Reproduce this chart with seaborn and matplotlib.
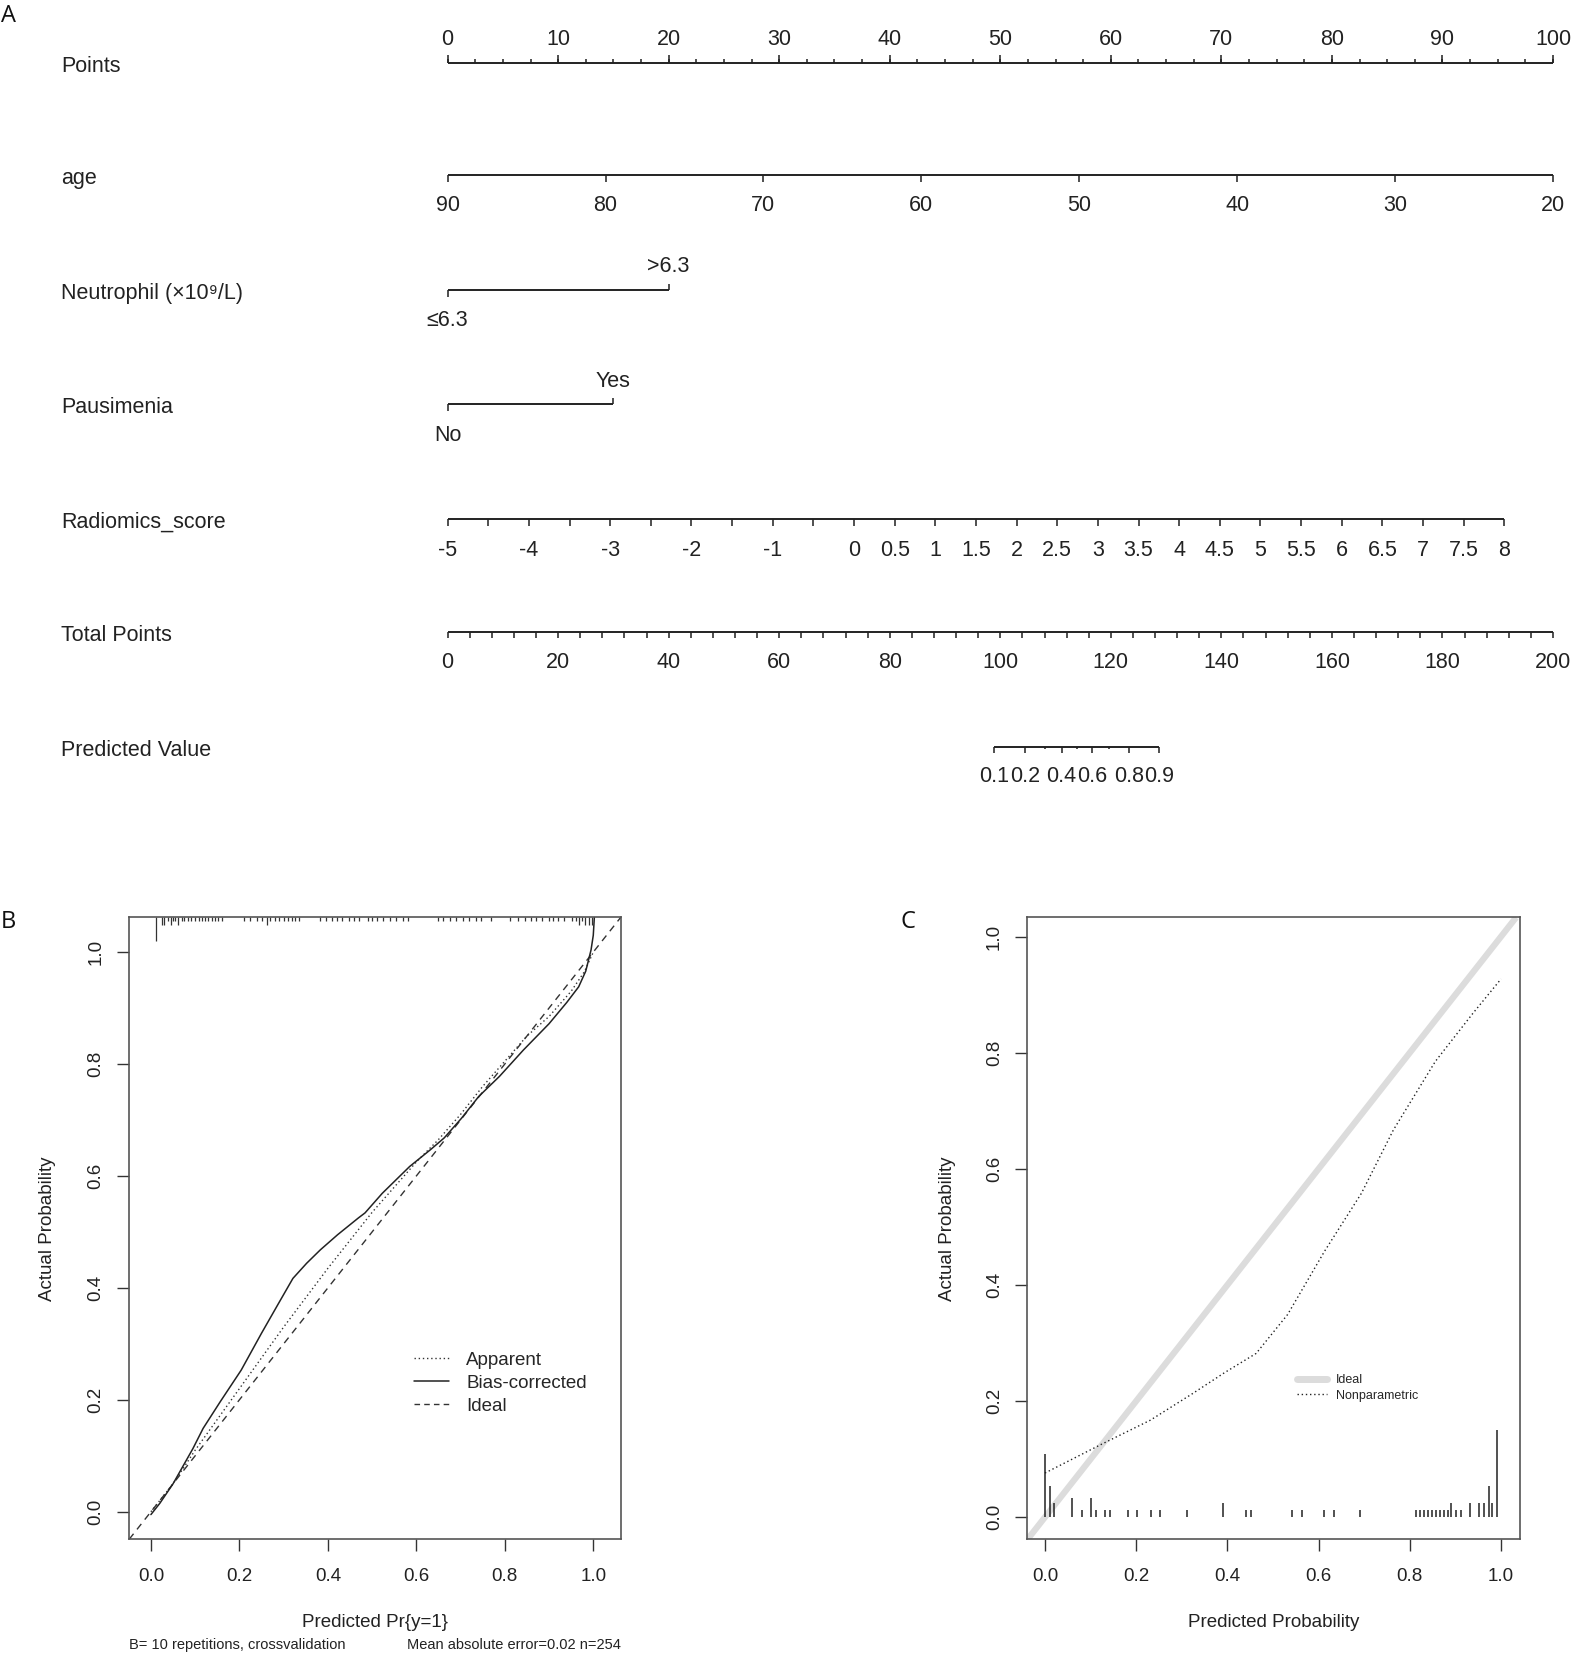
import numpy as np
import pandas as pd
import matplotlib
matplotlib.use("Agg")
import matplotlib.pyplot as plt
import seaborn as sns
from matplotlib.transforms import blended_transform_factory
from matplotlib.lines import Line2D

# ---------------- data ----------------
# Nomogram (panel A)
points_major = np.arange(0, 101, 10)
points_minor = np.arange(0, 100.01, 2.5)
age_ticks = [90, 80, 70, 60, 50, 40, 30, 20]
age_at_0pts, age_at_100pts = 90, 20
neut_labels = ["\u22646.3", ">6.3"]
neut_points = [0, 20]
paus_labels = ["No", "Yes"]
paus_points = [0, 15]
rad_ticks = np.arange(-5, 8.01, 0.5)
rad_labels = [-5, -4, -3, -2, -1, 0, 0.5, 1, 1.5, 2, 2.5, 3, 3.5, 4, 4.5, 5,
              5.5, 6, 6.5, 7, 7.5, 8]
rad_min, rad_max, rad_points_at_max = -5, 8, 95.6
total_major = np.arange(0, 201, 20)
total_minor = np.arange(0, 200.01, 4)
pred_major = [0.1, 0.2, 0.4, 0.6, 0.8, 0.9]
pred_minor = [0.3, 0.5, 0.7]
lp_center_total, lp_slope = 113.86, 0.1472

# Panel B calibration (bootstrap)
app_x = [0.0, 0.05, 0.1, 0.2, 0.3, 0.4, 0.45, 0.5, 0.55, 0.6, 0.65, 0.7, 0.75,
         0.8, 0.85, 0.9, 0.95, 0.98, 1.0]
app_y = [0.0, 0.05, 0.11, 0.22, 0.33, 0.435, 0.485, 0.535, 0.58, 0.625, 0.665,
         0.71, 0.76, 0.805, 0.85, 0.885, 0.93, 0.965, 1.0]
bc_x = [0.0, 0.02, 0.05, 0.095, 0.118, 0.157, 0.204, 0.25, 0.289, 0.321, 0.352,
        0.383, 0.422, 0.469, 0.484, 0.523, 0.585, 0.632, 0.663, 0.702, 0.741,
        0.788, 0.842, 0.9, 0.94, 0.967, 0.983, 0.995, 1.0, 1.003]
bc_y = [-0.005, 0.015, 0.05, 0.113, 0.149, 0.197, 0.253, 0.319, 0.373, 0.417,
        0.444, 0.468, 0.495, 0.525, 0.534, 0.569, 0.617, 0.647, 0.668, 0.703,
        0.742, 0.778, 0.825, 0.872, 0.91, 0.938, 0.966, 1.004, 1.03, 1.07]
ideal_pts = [0.0, 1.0]
b_rug_x = [0.012, 0.025, 0.03, 0.038, 0.045, 0.05, 0.055, 0.062, 0.07, 0.075,
           0.083, 0.09, 0.1, 0.108, 0.115, 0.122, 0.13, 0.138, 0.145, 0.152,
           0.16, 0.21, 0.225, 0.24, 0.25, 0.262, 0.27, 0.28, 0.29, 0.3, 0.31,
           0.318, 0.326, 0.335, 0.382, 0.395, 0.41, 0.42, 0.432, 0.448, 0.46,
           0.47, 0.49, 0.5, 0.51, 0.525, 0.54, 0.555, 0.57, 0.581, 0.648, 0.66,
           0.675, 0.69, 0.705, 0.72, 0.735, 0.746, 0.769, 0.812, 0.83, 0.845,
           0.86, 0.87, 0.885, 0.9, 0.91, 0.92, 0.933, 0.953, 0.96, 0.967, 0.975,
           0.982, 0.99, 0.996]
b_rug_n = [6, 2, 2, 1, 2, 1, 1, 2, 1, 1, 1, 1, 1, 1, 1, 1, 1, 1, 1, 1,
           1, 1, 1, 1, 1, 2, 1, 1, 1, 1, 1,
           1, 1, 1, 1, 1, 1, 1, 1, 1, 1,
           1, 1, 1, 1, 1, 1, 1, 1, 1, 1, 1,
           1, 1, 1, 1, 1, 1, 1, 1, 1, 1,
           1, 1, 1, 1, 1, 1, 1, 1, 1, 2, 1,
           2, 2, 2]

# Panel C calibration
np_x = [0.0, 0.12, 0.231, 0.324, 0.394, 0.463, 0.532, 0.613, 0.694, 0.764,
        0.856, 0.9375, 1.0]
np_y = [0.076, 0.124, 0.167, 0.213, 0.249, 0.282, 0.349, 0.458, 0.558, 0.667,
        0.785, 0.867, 0.927]
c_rug_x = [0.0, 0.011, 0.019, 0.060, 0.081, 0.100, 0.112, 0.131, 0.142, 0.182,
           0.201, 0.232, 0.252, 0.312, 0.391, 0.440, 0.451, 0.541, 0.563, 0.612,
           0.633, 0.690, 0.813, 0.822, 0.831, 0.840, 0.849, 0.858, 0.867, 0.876,
           0.884, 0.891, 0.902, 0.913, 0.931, 0.951, 0.962, 0.973, 0.981, 0.992]
c_rug_h = [0.108, 0.054, 0.024, 0.033, 0.013, 0.033, 0.013, 0.013, 0.013, 0.013,
           0.013, 0.013, 0.013, 0.013, 0.024, 0.013, 0.013, 0.013, 0.013, 0.013,
           0.013, 0.013, 0.013, 0.013, 0.013, 0.013, 0.013, 0.013, 0.013, 0.013,
           0.013, 0.024, 0.013, 0.013, 0.024, 0.024, 0.024, 0.054, 0.024, 0.150]

# ---------------- style ----------------
sns.set_theme(style="white")
plt.rcParams["font.family"] = ["Liberation Sans", "DejaVu Sans"]

W, H = 1573, 1655
fig = plt.figure(figsize=(W / 100, H / 100), dpi=100)
fig.patch.set_facecolor("white")

def fx(px):
    return px / W

def fy(py):
    return 1 - py / H

# ---------------- Panel A: nomogram ----------------
axN = fig.add_axes([0, fy(800), 1, 800 / H])
axN.set_xlim(-447.6 / 11.054, 100 + (W - 1553) / 11.054)
axN.set_ylim(800, 0)
axN.axis("off")
LC = "#222222"
LW = 1.4
FS = 15.5
row_y = [62.7, 175.2, 290, 404.3, 519, 631.7, 746.7]
names = ["Points", "age", "Neutrophil (\u00d710\u2079/L)", "Pausimenia",
         "Radiomics_score", "Total Points", "Predicted Value"]
name_tr = blended_transform_factory(fig.transFigure, axN.transData)
for nm, yy in zip(names, row_y):
    axN.text(61 / W, yy + 3.5, nm, transform=name_tr, ha="left", va="center",
             fontsize=FS, color="#222222")

def hline(y, x0, x1):
    axN.plot([x0, x1], [y, y], color=LC, lw=LW, solid_capstyle="butt")

def ticks(y, xs, length):
    axN.vlines(xs, y, y + length, color=LC, lw=LW * 0.8)

BELOW, ABOVE = 31, -23

# Points
y = row_y[0]
hline(y, 0, 100)
ticks(y, points_minor, -3.5)
ticks(y, points_major, -7.7)
for v in points_major:
    axN.text(v, y + ABOVE, f"{v:d}", ha="center", va="center", fontsize=FS, color=LC)

# age
def age_pts(a):
    return (age_at_0pts - np.asarray(a, float)) / (age_at_0pts - age_at_100pts) * 100
y = row_y[1]
hline(y, age_pts(age_at_0pts), age_pts(age_at_100pts))
ticks(y, age_pts(age_ticks), 7)
for a in age_ticks:
    axN.text(age_pts(a), y + BELOW - 1, str(a), ha="center", va="center", fontsize=FS, color=LC)

# Neutrophil and Pausimenia
for yy, labs, pts in [(row_y[2], neut_labels, neut_points), (row_y[3], paus_labels, paus_points)]:
    hline(yy, pts[0], pts[1])
    ticks(yy, [pts[0]], 6.5)
    ticks(yy, [pts[1]], -6.5)
    axN.text(pts[0], yy + BELOW, labs[0], ha="center", va="center", fontsize=FS, color=LC)
    axN.text(pts[1], yy + ABOVE, labs[1], ha="center", va="center", fontsize=FS, color=LC)

# Radiomics
def rad_pts(s):
    return (np.asarray(s, float) - rad_min) / (rad_max - rad_min) * rad_points_at_max
y = row_y[4]
hline(y, rad_pts(rad_min), rad_pts(rad_max))
ticks(y, rad_pts(rad_ticks), 6.5)
for s in rad_labels:
    axN.text(rad_pts(s), y + BELOW, f"{s:g}", ha="center", va="center", fontsize=FS, color=LC)

# Total points
def tot_pts(t):
    return np.asarray(t, float) / 2.0
y = row_y[5]
hline(y, 0, 100)
ticks(y, tot_pts(total_minor), 6.5)
for t in total_major:
    axN.text(tot_pts(t), y + BELOW, f"{t:d}", ha="center", va="center", fontsize=FS, color=LC)

# Predicted value
def pred_pts(p):
    p = np.asarray(p, float)
    return tot_pts(lp_center_total + np.log(p / (1 - p)) / lp_slope)
y = row_y[6]
hline(y, pred_pts(pred_major[0]), pred_pts(pred_major[-1]))
ticks(y, pred_pts(pred_major), 6.5)
ticks(y, pred_pts(pred_minor), 2)
for p in pred_major:
    axN.text(pred_pts(p), y + BELOW - 1, f"{p:g}", ha="center", va="center",
             fontsize=FS, color=LC)

# ---------------- Panel B ----------------
axB = fig.add_axes([fx(128.8), fy(1539.2), (620.7 - 128.8) / W, (1539.2 - 917.4) / H])
axB.set_xlim(-0.05, 1.062)
axB.set_ylim(-0.049, 1.062)
axB.axline((ideal_pts[0], ideal_pts[0]), (ideal_pts[1], ideal_pts[1]),
           color="#333333", lw=1.0, linestyle=(0, (5, 4)))
sns.lineplot(x=app_x, y=app_y, ax=axB, color="#333333", lw=1.0,
             linestyle=(0, (1, 2)), sort=False, estimator=None)
sns.lineplot(x=bc_x, y=bc_y, ax=axB, color="#222222", lw=1.1,
             sort=False, estimator=None)
rug_tr = blended_transform_factory(axB.transData, axB.transAxes)
axB.vlines(b_rug_x, 1.0, 1.0 - np.asarray(b_rug_n) * 4.0 / 621.8,
           transform=rug_tr, color="#333333", lw=0.9)

# ---------------- Panel C ----------------
axC = fig.add_axes([fx(1027.2), fy(1539.2), (1520.2 - 1027.2) / W, (1539.2 - 917.4) / H])
axC.set_xlim(-0.039, 1.042)
axC.set_ylim(-0.038, 1.033)
axC.axline((ideal_pts[0], ideal_pts[0]), (ideal_pts[1], ideal_pts[1]),
           color="#dcdcdc", lw=4.5, solid_capstyle="butt")
sns.lineplot(x=np_x, y=np_y, ax=axC, color="#222222", lw=1.0,
             linestyle=(0, (1, 2)), sort=False, estimator=None)
axC.vlines(c_rug_x, 0, c_rug_h, color="#222222", lw=1.1)

ticks01 = [0.0, 0.2, 0.4, 0.6, 0.8, 1.0]
tick_labels = [f"{t:.1f}" for t in ticks01]
for ax in (axB, axC):
    ax.set_xticks(ticks01)
    ax.set_xticklabels(tick_labels)
    ax.set_yticks(ticks01)
    ax.set_yticklabels(tick_labels, rotation=90, va="center")
    ax.tick_params(axis="both", which="both", bottom=True, left=True, top=False,
                   right=False, direction="out", length=8.6, width=1.0,
                   color="#333333", labelsize=13.5, labelcolor="#222222")
    ax.tick_params(axis="x", pad=12)
    ax.tick_params(axis="y", pad=9)
    for s in ax.spines.values():
        s.set_visible(True)
        s.set_color("#555555")
        s.set_linewidth(1.2)
    ax.set_xlabel("")
    ax.set_ylabel("")
    ax.grid(False)

# axis titles
def atext(ax, x, y, s, **kw):
    ax.text(x, y, s, transform=ax.transAxes, ha="center", va="center",
            fontsize=13.5, color="#222222", **kw)

atext(axB, (374.8 - 128.8) / 491.9, (1539.2 - 1622.5) / 621.8, "Predicted Pr{y=1}")
atext(axB, (47.5 - 128.8) / 491.9, 0.5, "Actual Probability", rotation=90)
atext(axC, 0.5, (1539.2 - 1622.5) / 621.8, "Predicted Probability")
atext(axC, (947 - 1027.2) / 493, 0.5, "Actual Probability", rotation=90)

fig.text(fx(128.8), fy(1645), "B= 10 repetitions, crossvalidation", ha="left",
         va="center", fontsize=10.5, color="#222222")
fig.text(fx(620.7), fy(1645), "Mean absolute error=0.02 n=254", ha="right",
         va="center", fontsize=10.5, color="#222222")

# legends
hB = [Line2D([], [], color="#333333", lw=1.0, linestyle=(0, (1, 2))),
      Line2D([], [], color="#222222", lw=1.1),
      Line2D([], [], color="#333333", lw=1.0, linestyle=(0, (4, 3)))]
axB.legend(hB, ["Apparent", "Bias-corrected", "Ideal"], loc="upper left",
           bbox_to_anchor=(0.579, 0.302), frameon=False, fontsize=13.5,
           handlelength=1.9, handletextpad=0.9, labelspacing=0.32,
           borderpad=0, borderaxespad=0)
hC = [Line2D([], [], color="#dcdcdc", lw=5),
      Line2D([], [], color="#222222", lw=1.0, linestyle=(0, (1, 2)))]
axC.legend(hC, ["Ideal", "Nonparametric"], loc="upper left",
           bbox_to_anchor=(0.547, 0.265), frameon=False, fontsize=9,
           handlelength=2.4, handletextpad=0.75, labelspacing=0.25,
           borderpad=0, borderaxespad=0)

# panel letters
for lab, px, py in [("A", 8.4, 15.8), ("B", 8.4, 921.6), ("C", 907.9, 921.6)]:
    fig.text(fx(px), fy(py), lab, ha="center", va="center", fontsize=17,
             color="#111111", family=["Open Sans", "DejaVu Sans"])

fig.savefig("out.png", dpi=100, facecolor="white")
